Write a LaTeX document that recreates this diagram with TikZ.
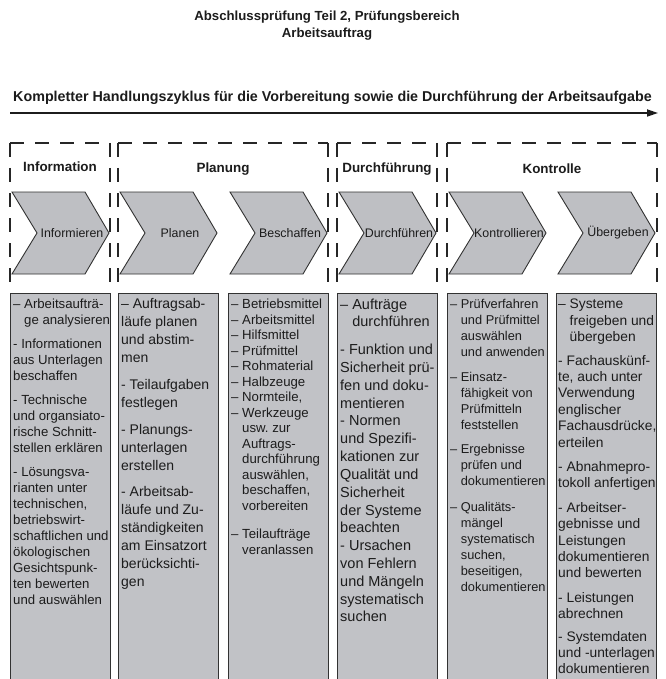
\documentclass[tikz,border=0pt]{standalone}
\usepackage{fontspec}
\setmainfont{Liberation Sans}
\usetikzlibrary{arrows.meta}
\definecolor{gfill}{RGB}{193,194,198}
\definecolor{chfill}{RGB}{190,191,195}
\definecolor{txt}{RGB}{28,28,28}
\definecolor{edge}{RGB}{50,50,50}
\newcommand{\ind}{\phantom{\textendash\ }}
\tikzset{
  dbox/.style={draw=black!85, line width=1.4pt, dash pattern=on 14pt off 11pt},
  colbox/.style={draw=edge, line width=1.3pt, fill=gfill, anchor=north west,
                 minimum width=100pt, minimum height=420pt, inner sep=0},
  chev/.style={draw=edge, line width=0.9pt, fill=chfill, line join=miter},
  chevlabel/.style={font=\fontsize{12.4}{14}\selectfont, text=txt, inner sep=0},
  head/.style={font=\bfseries\fontsize{13.4}{16}\selectfont, text=txt, inner sep=0},
  ttl/.style={font=\bfseries\fontsize{13.2}{16}\selectfont, text=txt, inner sep=0},
  coltext/.style={anchor=north west, align=left, inner sep=0, text=txt},
}
\begin{document}
\begin{tikzpicture}[x=1pt,y=-1pt]
\useasboundingbox (0,0) rectangle (665,679);
\fill[white] (0,0) rectangle (665,679);

% title
\node[ttl] (t1) at (327,17) {Abschlussprüfung Teil 2, Prüfungsbereich};
\node[ttl] (t2) at (327,34) {Arbeitsauftrag};

% cycle heading and arrow
\node[font=\bfseries\fontsize{14.3}{16}\selectfont, text=txt, inner sep=0] (cyc) at (332.5,98) {Kompletter Handlungszyklus für die Vorbereitung sowie die Durchführung der Arbeitsaufgabe};
\coordinate (aS) at (10,113);
\coordinate (aE) at (658,113);
\draw[line width=1.7pt, draw=txt, -{Triangle[length=11pt,width=7pt]}] (aS) -- (aE);

% dashed phase frames
\foreach \a/\b in {10/110, 118/328, 337/437, 447/657}{
  \draw[dbox] (\a,143) -- (\a,293);
  \draw[dbox] (\a,143) -- (\b,143);
  \draw[dbox] (\b,143) -- (\b,293);
}

% phase headings
\node[head] (hInfo) at (60,167) {Information};
\node[head] (hPlan) at (223,169) {Planung};
\node[head] (hDurch) at (387,169) {Durchführung};
\node[head] (hKontr) at (552,169) {Kontrolle};

% chevrons
\foreach \L/\lab/\i in {10/Informieren/1, 118/Planen/2, 228/Beschaffen/3, 337/Durchführen/4, 447/Kontrollieren/5, 556/Übergeben/6}{
  \draw[chev, xshift=\L pt] (2,192) -- (75,192) -- (99,233) -- (75,274) -- (2,274) -- (27,233) -- cycle;
  \node[chevlabel] (ch\i) at (\L+62,233) {\lab};
}

% gray columns
\foreach \L/\i in {10/1, 118/2, 228/3, 337/4, 447/5, 556/6}{
  \node[colbox] (col\i) at (\L,293) {};
}

% column texts
\node[coltext, font=\fontsize{13.2}{16}\selectfont] (x1) at (13,299) {%
\textendash\ Arbeitsaufträ-\\
\ind ge analysieren\\[8pt]
- Informationen\\
aus Unterlagen\\
beschaffen\\[8pt]
- Technische\\
und organsiato-\\
rische Schnitt-\\
stellen erklären\\[8pt]
- Lösungsva-\\
rianten unter\\
technischen,\\
betriebswirt-\\
schaftlichen und\\
ökologischen\\
Gesichtspunk-\\
ten bewerten\\
und auswählen};

\node[coltext, font=\fontsize{14}{18}\selectfont] (x2) at (121,298.5) {%
\textendash\ Auftragsab-\\
läufe planen\\
und abstim-\\
men\\[9pt]
- Teilaufgaben\\
festlegen\\[9pt]
- Planungs-\\
unterlagen\\
erstellen\\[8pt]
- Arbeitsab-\\
läufe und Zu-\\
ständigkeiten\\
am Einsatzort\\
berücksichti-\\
gen};

\node[coltext, font=\fontsize{13.2}{15.5}\selectfont] (x3) at (231,299) {%
\textendash\ Betriebsmittel\\
\textendash\ Arbeitsmittel\\
\textendash\ Hilfsmittel\\
\textendash\ Prüfmittel\\
\textendash\ Rohmaterial\\
\textendash\ Halbzeuge\\
\textendash\ Normteile,\\
\textendash\ Werkzeuge\\
\ind usw.\ zur\\
\ind Auftrags-\\
\ind durchführung\\
\ind auswählen,\\
\ind beschaffen,\\
\ind vorbereiten\\[13pt]
\textendash\ Teilaufträge\\
\ind veranlassen};

\node[coltext, font=\fontsize{14.5}{17.8}\selectfont] (x4) at (340,298.5) {%
\textendash\ Aufträge\\
\ind durchführen\\[10pt]
- Funktion und\\
Sicherheit prü-\\
fen und doku-\\
mentieren\\
- Normen\\
und Spezifi-\\
kationen zur\\
Qualität und\\
Sicherheit\\
der Systeme\\
beachten\\
- Ursachen\\
von Fehlern\\
und Mängeln\\
systematisch\\
suchen};

\node[coltext, font=\fontsize{12.8}{16}\selectfont] (x5) at (450,299) {%
\textendash\ Prüfverfahren\\
\ind und Prüfmittel\\
\ind auswählen\\
\ind und anwenden\\[9pt]
\textendash\ Einsatz-\\
\ind fähigkeit von\\
\ind Prüfmitteln\\
\ind feststellen\\[8pt]
\textendash\ Ergebnisse\\
\ind prüfen und\\
\ind dokumentieren\\[10pt]
\textendash\ Qualitäts-\\
\ind mängel\\
\ind systematisch\\
\ind suchen,\\
\ind beseitigen,\\
\ind dokumentieren};

\node[coltext, font=\fontsize{13.8}{16.4}\selectfont] (x6) at (558,299) {%
\textendash\ Systeme\\
\ind freigeben und\\
\ind übergeben\\[7pt]
- Fachauskünf-\\
te, auch unter\\
Verwendung\\
englischer\\
Fachausdrücke,\\
erteilen\\[8pt]
- Abnahmepro-\\
tokoll anfertigen\\[8pt]
- Arbeitser-\\
gebnisse und\\
Leistungen\\
dokumentieren\\
und bewerten\\[8pt]
- Leistungen\\
abrechnen\\[6pt]
- Systemdaten\\
und -unterlagen\\
dokumentieren};

\end{tikzpicture}
\end{document}
